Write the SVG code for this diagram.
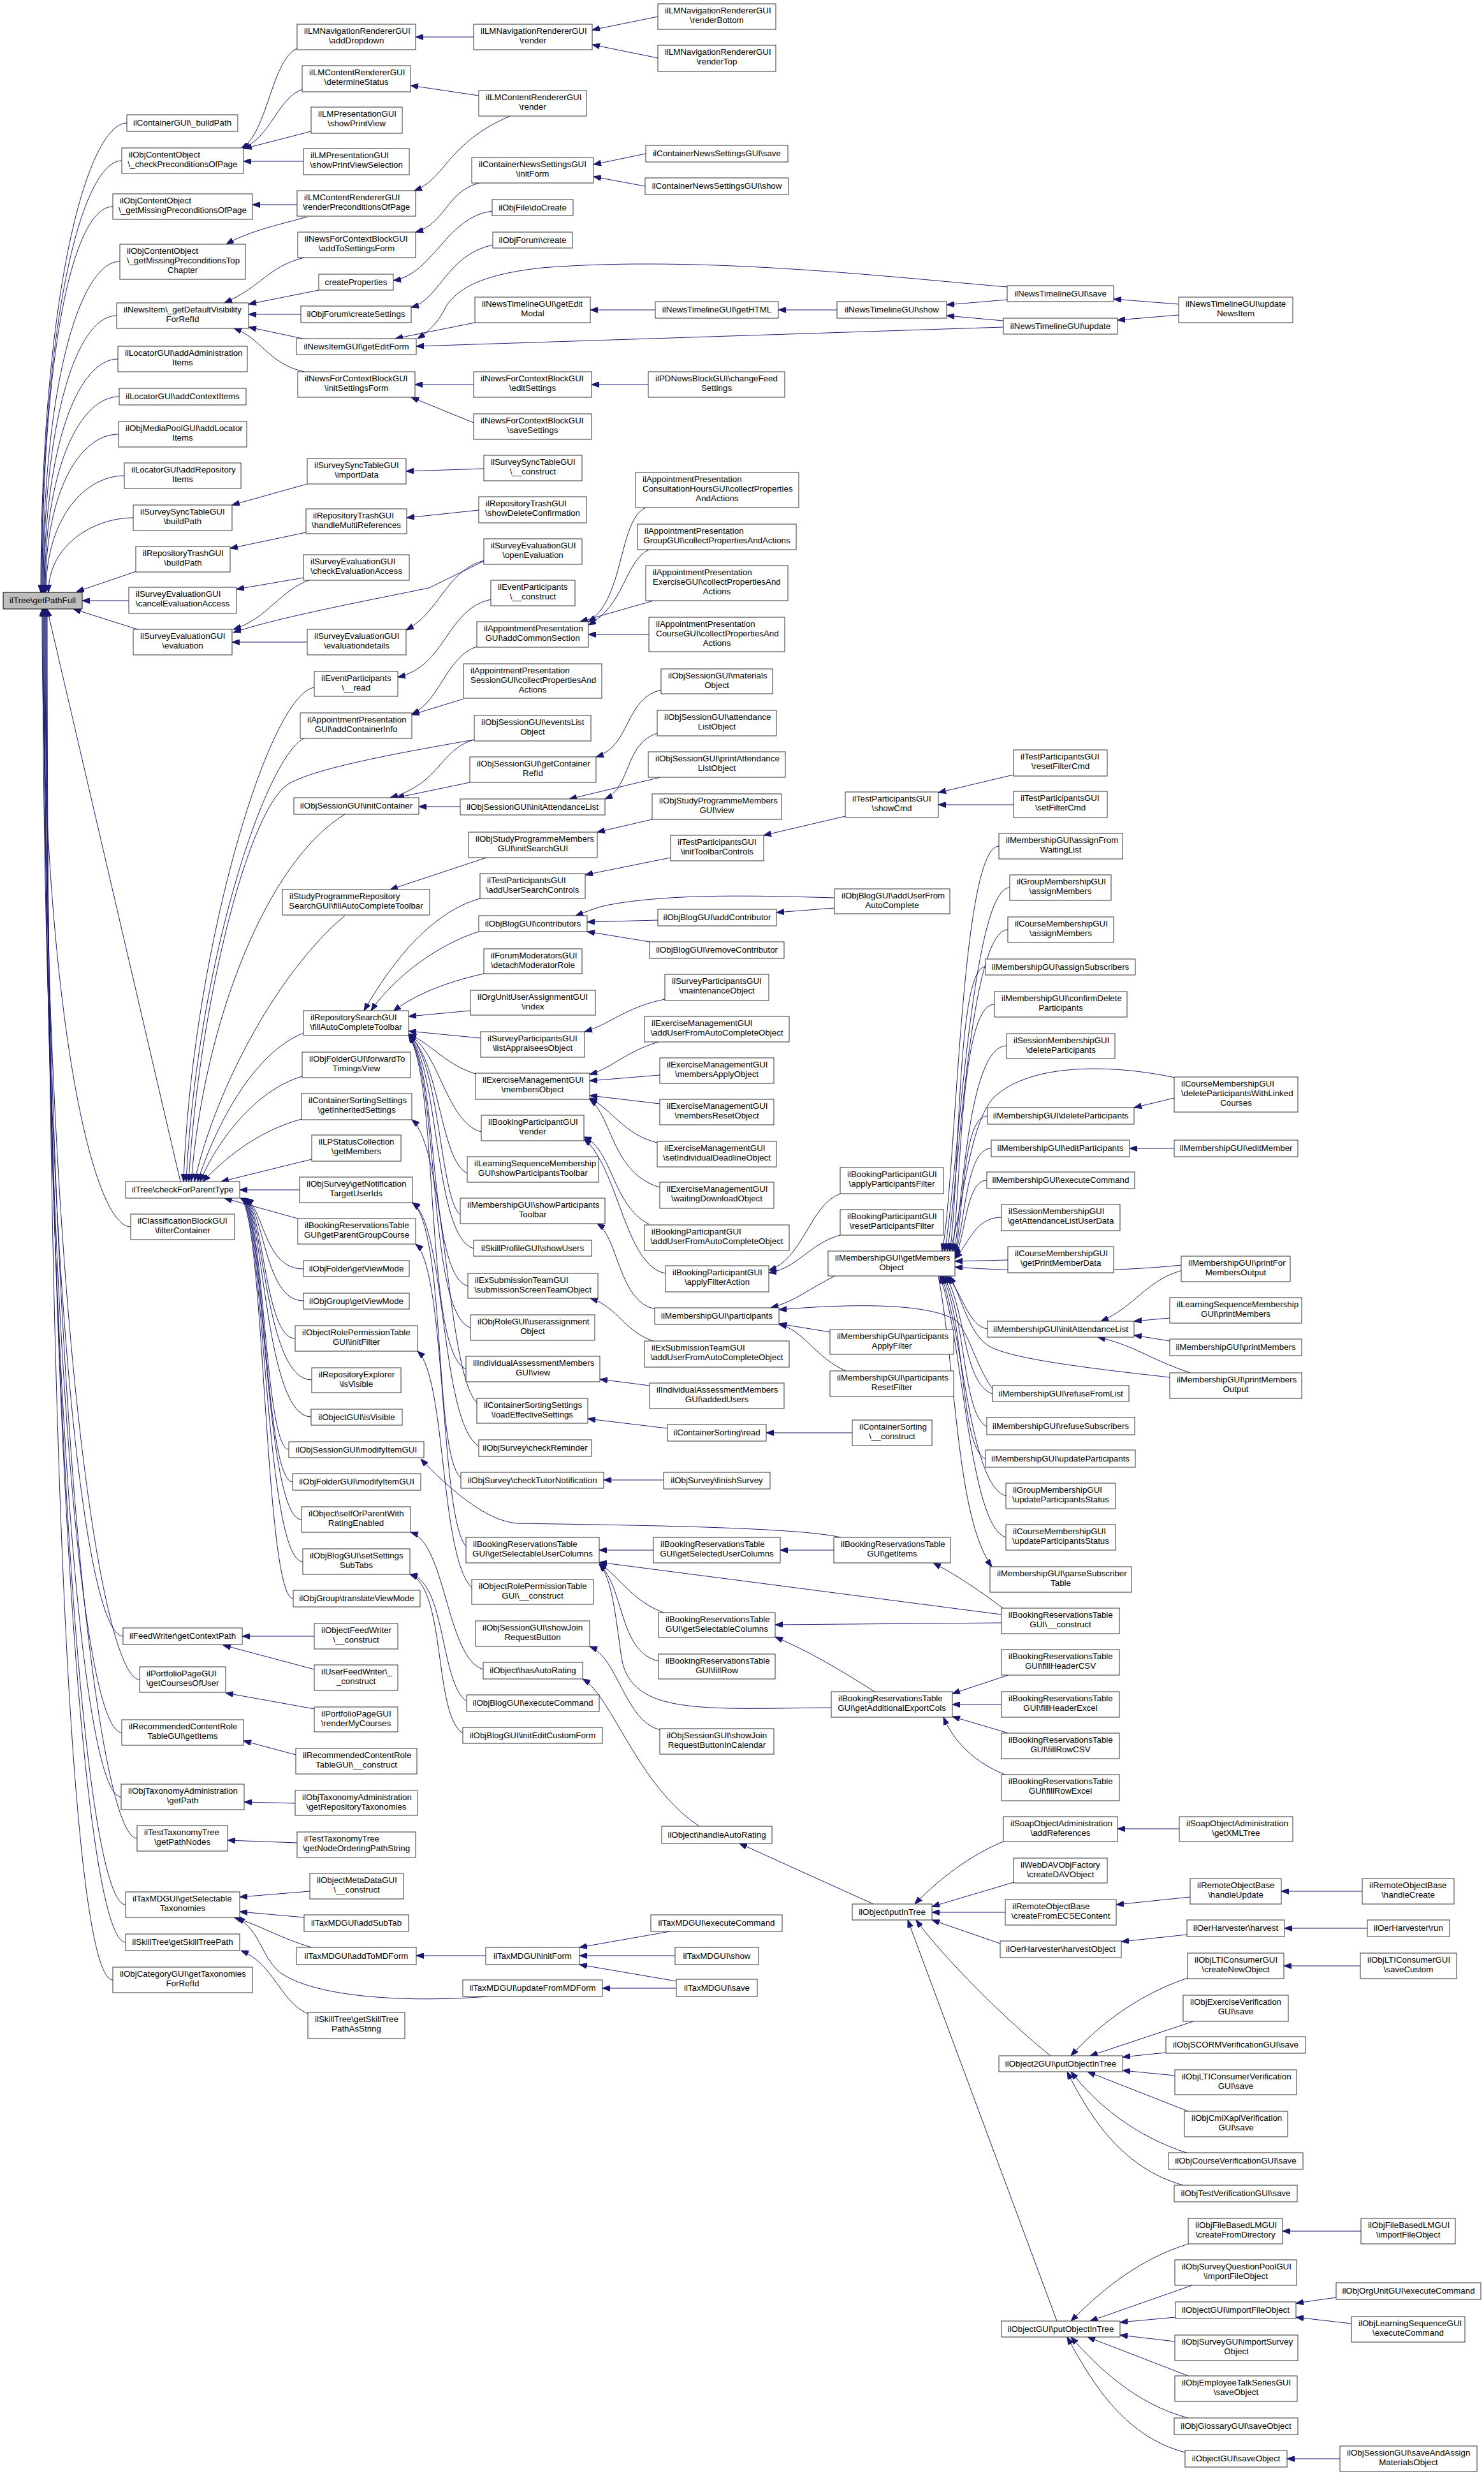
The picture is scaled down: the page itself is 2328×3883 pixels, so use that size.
<svg xmlns="http://www.w3.org/2000/svg" width="2328" height="3883" viewBox="0 0 2328 3883">
<style>
.n rect{fill:#fff;stroke:#333;stroke-width:1}
.r rect{fill:#bfbfbf;stroke:#000;stroke-width:1}
text{font-family:"Liberation Sans",Arial,Helvetica,sans-serif;font-size:13.33px;fill:#000}
.c{text-anchor:middle}
#edges path{fill:none;stroke:#191970;stroke-width:1;marker-end:url(#a)}
</style>
<defs>
<marker id="a" viewBox="0 0 12 9" refX="12" refY="4.5" markerWidth="12" markerHeight="9" markerUnits="userSpaceOnUse" orient="auto"><path d="M0,0L12,4.5L0,9z" fill="#191970" stroke="#191970"/></marker>
</defs>
<rect width="2328" height="3883" fill="#fff"/>
<g id="edges">
<path d="M199,193 C139,193 64,451 64,929"/>
<path d="M191,252 C131,252 65,489 65,929"/>
<path d="M177,324 C117,324 66,536 66,929"/>
<path d="M188,410 C128,410 67,592 67,929"/>
<path d="M183,495 C123,495 68,647 68,929"/>
<path d="M185,563 C125,563 69,691 69,929"/>
<path d="M187,622 C127,622 70,729 70,929"/>
<path d="M186,681 C126,681 71,768 71,929"/>
<path d="M195,746 C135,746 72,810 72,929"/>
<path d="M209,812 C149,812 76,853 76,929"/>
<path d="M214,896 L120,928"/>
<path d="M202,942 L129,942"/>
<path d="M219,988 L115,955"/>
<path d="M283,1853 L74,955"/>
<path d="M205,1924 C145,1924 66,1585 66,955"/>
<path d="M193,2566 C133,2566 67,2002 67,955"/>
<path d="M219,2634 C159,2634 68,2047 68,955"/>
<path d="M191,2717 C131,2717 69,2101 69,955"/>
<path d="M190,2818 C130,2818 70,2166 70,955"/>
<path d="M215,2883 C155,2883 71,2209 71,955"/>
<path d="M197,2987 C137,2987 72,2276 72,955"/>
<path d="M197,3046 C137,3046 73,2314 73,955"/>
<path d="M177,3105 C117,3105 74,2353 74,955"/>
<path d="M466,76 C425,95 420,210 378,233"/>
<path d="M474,140 C435,155 425,215 380,233"/>
<path d="M488,206 L383,233"/>
<path d="M476,253 L382,253"/>
<path d="M466,321 L396,321"/>
<path d="M482,340 C440,352 390,362 355,383"/>
<path d="M477,404 C420,418 410,450 352,475"/>
<path d="M500,455 L390,477"/>
<path d="M472,493 L390,493"/>
<path d="M475,531 L390,513"/>
<path d="M477,583 C420,570 410,530 367,515"/>
<path d="M482,759 L364,792"/>
<path d="M480,835 L361,860"/>
<path d="M476,906 L371,924"/>
<path d="M485,910 C440,925 420,970 366,987"/>
<path d="M759,880 L673,922 C560,945 430,970 366,992"/>
<path d="M482,1007 L364,1007"/>
<path d="M493,1078 C420,1090 300,1500 288,1853"/>
<path d="M479,1157 C420,1180 310,1500 292,1853"/>
<path d="M744,1160 C600,1185 470,1210 444,1236 C380,1300 310,1600 296,1853"/>
<path d="M541,1277 C420,1350 320,1600 300,1853"/>
<path d="M541,1436 C440,1520 340,1700 305,1853"/>
<path d="M476,1620 C400,1650 340,1760 310,1853"/>
<path d="M474,1688 C400,1710 340,1790 314,1853"/>
<path d="M473,1755 C400,1775 350,1820 318,1853"/>
<path d="M489,1818 L347,1853"/>
<path d="M470,1866 L376,1866"/>
<path d="M467,1911 L352,1879"/>
<path d="M476,1990 C415,1990 415,1900 386,1879"/>
<path d="M476,2040 C415,2040 415,1900 385,1879"/>
<path d="M463,2099 C415,2099 415,1900 384,1879"/>
<path d="M489,2164 C415,2164 415,1900 383,1879"/>
<path d="M488,2222 C415,2222 415,1900 382,1879"/>
<path d="M453,2273 C415,2273 415,1900 381,1879"/>
<path d="M459,2324 C415,2324 415,1900 380,1879"/>
<path d="M473,2383 C415,2383 415,1900 379,1879"/>
<path d="M475,2449 C415,2449 415,1900 378,1879"/>
<path d="M460,2507 C415,2507 415,1900 377,1879"/>
<path d="M493,2566 L380,2566"/>
<path d="M493,2618 L350,2580"/>
<path d="M493,2680 L354,2655"/>
<path d="M464,2752 L382,2730"/>
<path d="M463,2828 L383,2826"/>
<path d="M466,2890 L357,2886"/>
<path d="M486,2966 L376,2975"/>
<path d="M477,3007 L376,2998"/>
<path d="M489,3054 C440,3040 410,3020 367,3007"/>
<path d="M765,3131 C650,3140 500,3135 440,3094 C410,3070 410,3030 372,3007"/>
<path d="M483,3158 C440,3140 430,3080 378,3059"/>
<path d="M743,58 L652,58"/>
<path d="M751,150 L644,134"/>
<path d="M800,182 C700,225 700,280 650,299"/>
<path d="M752,287 C700,300 700,350 652,364"/>
<path d="M772,331 C700,340 680,430 617,440"/>
<path d="M773,384 C700,400 690,470 645,482"/>
<path d="M745,506 L620,531"/>
<path d="M1580,450 C1400,435 1100,400 850,420 C760,430 720,450 700,480 C690,500 680,515 655,531"/>
<path d="M1574,513 L653,543"/>
<path d="M743,603 L651,603"/>
<path d="M743,663 L645,623"/>
<path d="M759,735 L637,739"/>
<path d="M751,800 L638,812"/>
<path d="M759,879 C700,895 690,960 637,988"/>
<path d="M770,940 C700,955 700,1045 624,1062"/>
<path d="M748,1014 C700,1030 690,1100 646,1120"/>
<path d="M727,1096 L646,1121"/>
<path d="M744,1160 C690,1175 690,1230 612,1251"/>
<path d="M737,1227 L622,1251"/>
<path d="M722,1265 L657,1265"/>
<path d="M763,1345 L612,1395"/>
<path d="M753,1409 C680,1430 620,1500 571,1585"/>
<path d="M751,1461 C690,1480 620,1530 582,1585"/>
<path d="M759,1527 C700,1540 650,1560 617,1586"/>
<path d="M738,1585 L641,1594"/>
<path d="M754,1628 L641,1617"/>
<path d="M746,1684 C700,1670 680,1640 641,1621"/>
<path d="M755,1775 C700,1760 690,1650 641,1622"/>
<path d="M733,1840 C690,1820 690,1660 641,1623"/>
<path d="M722,1905 C690,1880 690,1660 641,1623"/>
<path d="M743,1958 C680,1940 690,1670 641,1624"/>
<path d="M734,2017 C670,2000 690,1680 641,1624"/>
<path d="M738,2082 C670,2060 690,1690 641,1624"/>
<path d="M731,2147 C665,2120 690,1700 641,1624"/>
<path d="M748,2200 C700,2150 700,1800 646,1756"/>
<path d="M751,2268 C690,2230 700,1920 647,1886"/>
<path d="M723,2318 C680,2280 700,1930 647,1886"/>
<path d="M740,2490 C690,2440 700,2160 655,2119"/>
<path d="M758,2618 C700,2600 700,2420 644,2403"/>
<path d="M732,2668 C690,2640 700,2480 643,2469"/>
<path d="M726,2718 C680,2690 700,2490 643,2469"/>
<path d="M731,2425 C690,2380 700,1990 652,1951"/>
<path d="M1319,2411 C1250,2395 1000,2392 811,2389 C760,2385 700,2330 660,2288"/>
<path d="M1036,2713 C980,2700 970,2600 925,2582"/>
<path d="M1097,2864 C1000,2800 960,2660 914,2633"/>
<path d="M762,3067 L653,3067"/>
<path d="M1032,26 L929,47"/>
<path d="M1032,91 L929,70"/>
<path d="M1013,241 L931,258"/>
<path d="M1012,292 L931,277"/>
<path d="M1028,486 L926,486"/>
<path d="M1017,603 L928,603"/>
<path d="M1013,796 C970,815 980,940 923,975"/>
<path d="M1018,862 C980,880 980,950 923,980"/>
<path d="M1025,942 L910,975"/>
<path d="M1018,995 L923,995"/>
<path d="M1037,1082 C980,1095 990,1170 935,1187"/>
<path d="M1031,1150 C980,1165 990,1235 949,1253"/>
<path d="M1036,1219 L893,1253"/>
<path d="M1023,1285 L937,1305"/>
<path d="M1052,1345 L918,1372"/>
<path d="M1309,1408 C1200,1405 1050,1400 950,1420 C930,1425 920,1430 903,1436"/>
<path d="M1309,1424 L1218,1431"/>
<path d="M1032,1443 L921,1446"/>
<path d="M1019,1477 L921,1461"/>
<path d="M1043,1567 C980,1580 960,1605 917,1618"/>
<path d="M1033,1634 C980,1650 960,1675 925,1685"/>
<path d="M1035,1686 L925,1695"/>
<path d="M1035,1731 L925,1718"/>
<path d="M1031,1792 C980,1780 960,1740 925,1722"/>
<path d="M1035,1862 C960,1840 960,1750 925,1724"/>
<path d="M1018,1920 C960,1890 960,1800 916,1783"/>
<path d="M1044,1997 C980,1985 970,1830 916,1786"/>
<path d="M1027,2053 C970,2040 970,1940 937,1919"/>
<path d="M1028,2104 C980,2090 970,2050 926,2036"/>
<path d="M1019,2173 L941,2163"/>
<path d="M1047,2240 L922,2225"/>
<path d="M1041,2321 L947,2321"/>
<path d="M1025,2431 L940,2431"/>
<path d="M1041,2529 C990,2510 970,2470 940,2452"/>
<path d="M1033,2605 C970,2590 980,2490 940,2453"/>
<path d="M1304,2678 C1100,2680 990,2690 975,2600 C965,2530 960,2475 940,2453"/>
<path d="M1571,2532 L940,2450"/>
<path d="M1051,3029 L909,3054"/>
<path d="M1059,3067 L909,3067"/>
<path d="M1061,3107 L909,3081"/>
<path d="M1061,3118 L945,3118"/>
<path d="M1313,486 L1221,486"/>
<path d="M1326,1280 L1198,1310"/>
<path d="M1318,1872 C1270,1890 1260,1975 1206,1992"/>
<path d="M1318,1937 C1270,1950 1250,1990 1206,1996"/>
<path d="M1310,2001 C1270,2020 1250,2040 1209,2051"/>
<path d="M1302,2089 L1222,2076"/>
<path d="M1327,2150 C1280,2130 1260,2085 1222,2077"/>
<path d="M1557,2178 C1530,2140 1520,2090 1500,2071 C1460,2045 1350,2043 1222,2054"/>
<path d="M1337,2247 L1202,2247"/>
<path d="M1308,2431 L1224,2431"/>
<path d="M1575,2523 C1530,2490 1500,2470 1464,2451"/>
<path d="M1571,2545 L1216,2548"/>
<path d="M1372,2653 C1320,2620 1270,2590 1216,2567"/>
<path d="M1370,2986 L1160,2891"/>
<path d="M1580,470 L1485,478"/>
<path d="M1574,503 L1485,495"/>
<path d="M1590,1215 L1472,1243"/>
<path d="M1590,1262 L1472,1262"/>
<path d="M1582,2627 L1494,2656"/>
<path d="M1571,2673 L1494,2673"/>
<path d="M1582,2718 L1494,2692"/>
<path d="M1582,2785 C1540,2770 1500,2740 1480,2693"/>
<path d="M1574,2888 C1520,2910 1470,2950 1435,2986"/>
<path d="M1590,2952 L1462,2990"/>
<path d="M1577,2999 L1462,2999"/>
<path d="M1569,3048 L1462,3011"/>
<path d="M1648,3224 C1580,3170 1480,3070 1437,3011"/>
<path d="M1658,3640 L1424,3011"/>
<path d="M1567,1327 C1507,1327 1500,1850 1478,1962"/>
<path d="M1584,1392 C1524,1392 1502,1850 1482,1962"/>
<path d="M1581,1458 C1521,1458 1504,1850 1486,1962"/>
<path d="M1546,1516 C1500,1516 1506,1860 1490,1962"/>
<path d="M1560,1575 C1505,1575 1508,1870 1494,1962"/>
<path d="M1579,1640 C1520,1640 1510,1880 1497,1964"/>
<path d="M1549,1750 C1510,1750 1512,1900 1498,1967"/>
<path d="M1555,1801 C1515,1801 1514,1920 1498,1969"/>
<path d="M1548,1851 C1515,1851 1515,1940 1498,1971"/>
<path d="M1571,1909 C1530,1909 1520,1950 1498,1974"/>
<path d="M1581,1976 L1498,1978"/>
<path d="M1549,2084 C1520,2080 1510,2030 1486,2001"/>
<path d="M1557,2186 C1510,2170 1515,2050 1483,2001"/>
<path d="M1548,2237 C1510,2220 1515,2060 1480,2001"/>
<path d="M1546,2288 C1505,2270 1515,2070 1478,2001"/>
<path d="M1578,2346 C1520,2330 1510,2080 1476,2001"/>
<path d="M1578,2411 C1520,2395 1510,2090 1474,2001"/>
<path d="M1472,2001 C1500,2150 1500,2380 1556,2457"/>
<path d="M1849,477 L1747,469"/>
<path d="M1849,494 L1753,502"/>
<path d="M1842,1722 L1779,1737"/>
<path d="M1843,1690 C1750,1670 1620,1665 1560,1720 C1520,1760 1510,1900 1490,1962"/>
<path d="M1842,1801 L1772,1801"/>
<path d="M1859,1991 C1800,2005 1780,2050 1727,2072"/>
<path d="M1853,1984 C1750,1995 1600,1995 1498,1987"/>
<path d="M1835,2067 L1779,2072"/>
<path d="M1835,2103 L1779,2094"/>
<path d="M1867,2153 C1800,2130 1780,2110 1722,2097"/>
<path d="M1835,2160 C1700,2145 1580,2130 1550,2110 C1520,2090 1510,2040 1490,2001"/>
<path d="M1850,2868 L1753,2868"/>
<path d="M1867,2975 L1751,2987"/>
<path d="M1862,3034 L1759,3045"/>
<path d="M1863,3102 C1780,3130 1720,3180 1680,3224"/>
<path d="M1872,3170 L1710,3224"/>
<path d="M1829,3219 L1761,3226"/>
<path d="M1843,3255 L1761,3247"/>
<path d="M1864,3311 L1706,3249"/>
<path d="M1864,3377 C1780,3350 1720,3300 1680,3249"/>
<path d="M1856,3427 C1760,3400 1710,3320 1674,3249"/>
<path d="M1864,3519 C1780,3545 1720,3600 1680,3640"/>
<path d="M1870,3584 L1710,3640"/>
<path d="M1844,3634 L1757,3642"/>
<path d="M1843,3672 L1757,3662"/>
<path d="M1864,3726 L1706,3665"/>
<path d="M1864,3792 C1780,3770 1720,3710 1680,3665"/>
<path d="M1859,3846 C1760,3820 1710,3730 1674,3665"/>
<path d="M2137,2966 L2010,2966"/>
<path d="M2145,3024 L2015,3024"/>
<path d="M2134,3083 L2014,3083"/>
<path d="M2135,3499 L2012,3499"/>
<path d="M2096,3603 L2033,3612"/>
<path d="M2120,3644 L2033,3634"/>
<path d="M2102,3856 L2019,3856"/>
</g>
<g id="n0" class="r" transform="translate(5,929)"><rect width="124" height="26"/><text class="c" x="62" y="17">ilTree\getPathFull</text></g>
<g id="c1a" class="n" transform="translate(199,180)"><rect width="174" height="26"/><text class="c" x="87" y="17">ilContainerGUI\_buildPath</text></g>
<g id="c1b" class="n" transform="translate(191,232)"><rect width="191" height="40"/><text x="11" y="15">ilObjContentObject</text><text class="c" x="95.5" y="30">\_checkPreconditionsOfPage</text></g>
<g id="c1c" class="n" transform="translate(177,304)"><rect width="219" height="40"/><text x="11" y="15">ilObjContentObject</text><text class="c" x="109.5" y="30">\_getMissingPreconditionsOfPage</text></g>
<g id="c1d" class="n" transform="translate(188,383)"><rect width="197" height="55"/><text x="11" y="15">ilObjContentObject</text><text x="11" y="30">\_getMissingPreconditionsTop</text><text class="c" x="98.5" y="45">Chapter</text></g>
<g id="c1e" class="n" transform="translate(183,475)"><rect width="207" height="40"/><text x="11" y="15">ilNewsItem\_getDefaultVisibility</text><text class="c" x="103.5" y="30">ForRefId</text></g>
<g id="c1f" class="n" transform="translate(185,543)"><rect width="203" height="40"/><text x="11" y="15">ilLocatorGUI\addAdministration</text><text class="c" x="101.5" y="30">Items</text></g>
<g id="c1g" class="n" transform="translate(187,609)"><rect width="199" height="26"/><text class="c" x="99.5" y="17">ilLocatorGUI\addContextItems</text></g>
<g id="c1h" class="n" transform="translate(186,661)"><rect width="201" height="40"/><text x="11" y="15">ilObjMediaPoolGUI\addLocator</text><text class="c" x="100.5" y="30">Items</text></g>
<g id="c1i" class="n" transform="translate(195,726)"><rect width="183" height="40"/><text x="11" y="15">ilLocatorGUI\addRepository</text><text class="c" x="91.5" y="30">Items</text></g>
<g id="c1j" class="n" transform="translate(209,792)"><rect width="155" height="40"/><text x="11" y="15">ilSurveySyncTableGUI</text><text class="c" x="77.5" y="30">\buildPath</text></g>
<g id="c1k" class="n" transform="translate(213,857)"><rect width="148" height="40"/><text x="11" y="15">ilRepositoryTrashGUI</text><text class="c" x="74" y="30">\buildPath</text></g>
<g id="c1l" class="n" transform="translate(202,921)"><rect width="169" height="41"/><text x="11" y="15">ilSurveyEvaluationGUI</text><text class="c" x="84.5" y="30">\cancelEvaluationAccess</text></g>
<g id="c1m" class="n" transform="translate(209,987)"><rect width="155" height="40"/><text x="11" y="15">ilSurveyEvaluationGUI</text><text class="c" x="77.5" y="30">\evaluation</text></g>
<g id="c1n" class="n" transform="translate(197,1853)"><rect width="179" height="26"/><text class="c" x="89.5" y="17">ilTree\checkForParentType</text></g>
<g id="c1o" class="n" transform="translate(205,1904)"><rect width="163" height="40"/><text x="11" y="15">ilClassificationBlockGUI</text><text class="c" x="81.5" y="30">\filterContainer</text></g>
<g id="c1p" class="n" transform="translate(193,2553)"><rect width="187" height="26"/><text class="c" x="93.5" y="17">ilFeedWriter\getContextPath</text></g>
<g id="c1q" class="n" transform="translate(219,2614)"><rect width="135" height="40"/><text x="11" y="15">ilPortfolioPageGUI</text><text class="c" x="67.5" y="30">\getCoursesOfUser</text></g>
<g id="c1r" class="n" transform="translate(191,2697)"><rect width="191" height="40"/><text x="11" y="15">ilRecommendedContentRole</text><text class="c" x="95.5" y="30">TableGUI\getItems</text></g>
<g id="c1s" class="n" transform="translate(190,2798)"><rect width="193" height="40"/><text x="11" y="15">ilObjTaxonomyAdministration</text><text class="c" x="96.5" y="30">\getPath</text></g>
<g id="c1t" class="n" transform="translate(215,2863)"><rect width="142" height="40"/><text x="11" y="15">ilTestTaxonomyTree</text><text class="c" x="71" y="30">\getPathNodes</text></g>
<g id="c1u" class="n" transform="translate(197,2967)"><rect width="179" height="40"/><text x="11" y="15">ilTaxMDGUI\getSelectable</text><text class="c" x="89.5" y="30">Taxonomies</text></g>
<g id="c1v" class="n" transform="translate(197,3033)"><rect width="179" height="26"/><text class="c" x="89.5" y="17">ilSkillTree\getSkillTreePath</text></g>
<g id="c1w" class="n" transform="translate(177,3085)"><rect width="219" height="40"/><text x="11" y="15">ilObjCategoryGUI\getTaxonomies</text><text class="c" x="109.5" y="30">ForRefId</text></g>
<g id="c2a" class="n" transform="translate(466,38)"><rect width="186" height="40"/><text x="11" y="15">ilLMNavigationRendererGUI</text><text class="c" x="93" y="30">\addDropdown</text></g>
<g id="c2b" class="n" transform="translate(474,103)"><rect width="170" height="41"/><text x="11" y="15">ilLMContentRendererGUI</text><text class="c" x="85" y="30">\determineStatus</text></g>
<g id="c2c" class="n" transform="translate(488,168)"><rect width="143" height="41"/><text x="11" y="15">ilLMPresentationGUI</text><text class="c" x="71.5" y="30">\showPrintView</text></g>
<g id="c2d" class="n" transform="translate(476,233)"><rect width="166" height="41"/><text x="11" y="15">ilLMPresentationGUI</text><text class="c" x="83" y="30">\showPrintViewSelection</text></g>
<g id="c2e" class="n" transform="translate(466,299)"><rect width="186" height="40"/><text x="11" y="15">ilLMContentRendererGUI</text><text class="c" x="93" y="30">\renderPreconditionsOfPage</text></g>
<g id="c2f" class="n" transform="translate(467,364)"><rect width="185" height="40"/><text x="11" y="15">ilNewsForContextBlockGUI</text><text class="c" x="92.5" y="30">\addToSettingsForm</text></g>
<g id="c2g" class="n" transform="translate(500,430)"><rect width="117" height="25"/><text class="c" x="58.5" y="17">createProperties</text></g>
<g id="c2h" class="n" transform="translate(472,480)"><rect width="173" height="26"/><text class="c" x="86.5" y="17">ilObjForum\createSettings</text></g>
<g id="c2i" class="n" transform="translate(465,531)"><rect width="188" height="25"/><text class="c" x="94" y="17">ilNewsItemGUI\getEditForm</text></g>
<g id="c2j" class="n" transform="translate(467,583)"><rect width="184" height="40"/><text x="11" y="15">ilNewsForContextBlockGUI</text><text class="c" x="92" y="30">\initSettingsForm</text></g>
<g id="c2k" class="n" transform="translate(482,719)"><rect width="155" height="40"/><text x="11" y="15">ilSurveySyncTableGUI</text><text class="c" x="77.5" y="30">\importData</text></g>
<g id="c2l" class="n" transform="translate(480,798)"><rect width="158" height="39"/><text x="11" y="15">ilRepositoryTrashGUI</text><text class="c" x="79" y="30">\handleMultiReferences</text></g>
<g id="c2m" class="n" transform="translate(476,870)"><rect width="166" height="40"/><text x="11" y="15">ilSurveyEvaluationGUI</text><text class="c" x="83" y="30">\checkEvaluationAccess</text></g>
<g id="c2n" class="n" transform="translate(482,987)"><rect width="155" height="40"/><text x="11" y="15">ilSurveyEvaluationGUI</text><text class="c" x="77.5" y="30">\evaluationdetails</text></g>
<g id="c2o" class="n" transform="translate(493,1053)"><rect width="131" height="39"/><text x="11" y="15">ilEventParticipants</text><text class="c" x="65.5" y="30">\__read</text></g>
<g id="c2p" class="n" transform="translate(471,1118)"><rect width="175" height="40"/><text x="11" y="15">ilAppointmentPresentation</text><text class="c" x="87.5" y="30">GUI\addContainerInfo</text></g>
<g id="c2q" class="n" transform="translate(461,1251)"><rect width="196" height="26"/><text class="c" x="98" y="17">ilObjSessionGUI\initContainer</text></g>
<g id="c2r" class="n" transform="translate(443,1395)"><rect width="231" height="40"/><text x="11" y="15">ilStudyProgrammeRepository</text><text class="c" x="115.5" y="30">SearchGUI\fillAutoCompleteToolbar</text></g>
<g id="c2s" class="n" transform="translate(476,1585)"><rect width="165" height="39"/><text x="11" y="15">ilRepositorySearchGUI</text><text class="c" x="82.5" y="30">\fillAutoCompleteToolbar</text></g>
<g id="c2t" class="n" transform="translate(474,1650)"><rect width="170" height="40"/><text x="11" y="15">ilObjFolderGUI\forwardTo</text><text class="c" x="85" y="30">TimingsView</text></g>
<g id="c2u" class="n" transform="translate(473,1715)"><rect width="173" height="41"/><text x="11" y="15">ilContainerSortingSettings</text><text class="c" x="86.5" y="30">\getInheritedSettings</text></g>
<g id="c2v" class="n" transform="translate(489,1780)"><rect width="140" height="41"/><text x="11" y="15">ilLPStatusCollection</text><text class="c" x="70" y="30">\getMembers</text></g>
<g id="c2w" class="n" transform="translate(470,1846)"><rect width="177" height="40"/><text x="11" y="15">ilObjSurvey\getNotification</text><text class="c" x="88.5" y="30">TargetUserIds</text></g>
<g id="c2x" class="n" transform="translate(467,1911)"><rect width="185" height="40"/><text x="11" y="15">ilBookingReservationsTable</text><text class="c" x="92.5" y="30">GUI\getParentGroupCourse</text></g>
<g id="c2y" class="n" transform="translate(476,1977)"><rect width="166" height="25"/><text class="c" x="83" y="17">ilObjFolder\getViewMode</text></g>
<g id="c2z" class="n" transform="translate(476,2028)"><rect width="166" height="25"/><text class="c" x="83" y="17">ilObjGroup\getViewMode</text></g>
<g id="c2aa" class="n" transform="translate(463,2079)"><rect width="192" height="40"/><text x="11" y="15">ilObjectRolePermissionTable</text><text class="c" x="96" y="30">GUI\initFilter</text></g>
<g id="c2ab" class="n" transform="translate(489,2145)"><rect width="140" height="39"/><text x="11" y="15">ilRepositoryExplorer</text><text class="c" x="70" y="30">\isVisible</text></g>
<g id="c2ac" class="n" transform="translate(488,2210)"><rect width="143" height="25"/><text class="c" x="71.5" y="17">ilObjectGUI\isVisible</text></g>
<g id="c2ad" class="n" transform="translate(453,2261)"><rect width="212" height="25"/><text class="c" x="106" y="17">ilObjSessionGUI\modifyItemGUI</text></g>
<g id="c2ae" class="n" transform="translate(459,2311)"><rect width="201" height="26"/><text class="c" x="100.5" y="17">ilObjFolderGUI\modifyItemGUI</text></g>
<g id="c2af" class="n" transform="translate(473,2363)"><rect width="171" height="40"/><text x="11" y="15">ilObject\selfOrParentWith</text><text class="c" x="85.5" y="30">RatingEnabled</text></g>
<g id="c2ag" class="n" transform="translate(475,2429)"><rect width="168" height="40"/><text x="11" y="15">ilObjBlogGUI\setSettings</text><text class="c" x="84" y="30">SubTabs</text></g>
<g id="c2ah" class="n" transform="translate(460,2494)"><rect width="199" height="26"/><text class="c" x="99.5" y="17">ilObjGroup\translateViewMode</text></g>
<g id="c2ai" class="n" transform="translate(493,2546)"><rect width="131" height="40"/><text x="11" y="15">ilObjectFeedWriter</text><text class="c" x="65.5" y="30">\__construct</text></g>
<g id="c2aj" class="n" transform="translate(493,2611)"><rect width="131" height="40"/><text x="11" y="15">ilUserFeedWriter\_</text><text class="c" x="65.5" y="30">_construct</text></g>
<g id="c2ak" class="n" transform="translate(493,2677)"><rect width="131" height="39"/><text x="11" y="15">ilPortfolioPageGUI</text><text class="c" x="65.5" y="30">\renderMyCourses</text></g>
<g id="c2al" class="n" transform="translate(464,2742)"><rect width="190" height="40"/><text x="11" y="15">ilRecommendedContentRole</text><text class="c" x="95" y="30">TableGUI\__construct</text></g>
<g id="c2am" class="n" transform="translate(463,2808)"><rect width="192" height="39"/><text x="11" y="15">ilObjTaxonomyAdministration</text><text class="c" x="96" y="30">\getRepositoryTaxonomies</text></g>
<g id="c2an" class="n" transform="translate(466,2873)"><rect width="186" height="40"/><text x="11" y="15">ilTestTaxonomyTree</text><text class="c" x="93" y="30">\getNodeOrderingPathString</text></g>
<g id="c2ao" class="n" transform="translate(486,2938)"><rect width="147" height="40"/><text x="11" y="15">ilObjectMetaDataGUI</text><text class="c" x="73.5" y="30">\__construct</text></g>
<g id="c2ap" class="n" transform="translate(477,3003)"><rect width="164" height="26"/><text class="c" x="82" y="17">ilTaxMDGUI\addSubTab</text></g>
<g id="c2aq" class="n" transform="translate(465,3054)"><rect width="188" height="27"/><text class="c" x="94" y="18">ilTaxMDGUI\addToMDForm</text></g>
<g id="c2ar" class="n" transform="translate(483,3156)"><rect width="152" height="41"/><text x="11" y="15">ilSkillTree\getSkillTree</text><text class="c" x="76" y="30">PathAsString</text></g>
<g id="c3a" class="n" transform="translate(743,38)"><rect width="186" height="40"/><text x="11" y="15">ilLMNavigationRendererGUI</text><text class="c" x="93" y="30">\render</text></g>
<g id="c3b" class="n" transform="translate(751,142)"><rect width="169" height="40"/><text x="11" y="15">ilLMContentRendererGUI</text><text class="c" x="84.5" y="30">\render</text></g>
<g id="c3c" class="n" transform="translate(740,247)"><rect width="191" height="40"/><text x="11" y="15">ilContainerNewsSettingsGUI</text><text class="c" x="95.5" y="30">\initForm</text></g>
<g id="c3d" class="n" transform="translate(772,313)"><rect width="127" height="25"/><text class="c" x="63.5" y="17">ilObjFile\doCreate</text></g>
<g id="c3e" class="n" transform="translate(773,364)"><rect width="125" height="25"/><text class="c" x="62.5" y="17">ilObjForum\create</text></g>
<g id="c3f" class="n" transform="translate(745,466)"><rect width="181" height="40"/><text x="11" y="15">ilNewsTimelineGUI\getEdit</text><text class="c" x="90.5" y="30">Modal</text></g>
<g id="c3g" class="n" transform="translate(743,583)"><rect width="185" height="40"/><text x="11" y="15">ilNewsForContextBlockGUI</text><text class="c" x="92.5" y="30">\editSettings</text></g>
<g id="c3h" class="n" transform="translate(743,649)"><rect width="185" height="40"/><text x="11" y="15">ilNewsForContextBlockGUI</text><text class="c" x="92.5" y="30">\saveSettings</text></g>
<g id="c3i" class="n" transform="translate(759,714)"><rect width="154" height="40"/><text x="11" y="15">ilSurveySyncTableGUI</text><text class="c" x="77" y="30">\__construct</text></g>
<g id="c3j" class="n" transform="translate(751,779)"><rect width="169" height="41"/><text x="11" y="15">ilRepositoryTrashGUI</text><text class="c" x="84.5" y="30">\showDeleteConfirmation</text></g>
<g id="c3k" class="n" transform="translate(759,845)"><rect width="154" height="40"/><text x="11" y="15">ilSurveyEvaluationGUI</text><text class="c" x="77" y="30">\openEvaluation</text></g>
<g id="c3l" class="n" transform="translate(770,910)"><rect width="132" height="40"/><text x="11" y="15">ilEventParticipants</text><text class="c" x="66" y="30">\__construct</text></g>
<g id="c3m" class="n" transform="translate(748,975)"><rect width="175" height="40"/><text x="11" y="15">ilAppointmentPresentation</text><text class="c" x="87.5" y="30">GUI\addCommonSection</text></g>
<g id="c3n" class="n" transform="translate(727,1041)"><rect width="217" height="54"/><text x="11" y="15">ilAppointmentPresentation</text><text x="11" y="30">SessionGUI\collectPropertiesAnd</text><text class="c" x="108.5" y="45">Actions</text></g>
<g id="c3o" class="n" transform="translate(744,1122)"><rect width="183" height="40"/><text x="11" y="15">ilObjSessionGUI\eventsList</text><text class="c" x="91.5" y="30">Object</text></g>
<g id="c3p" class="n" transform="translate(737,1187)"><rect width="198" height="40"/><text x="11" y="15">ilObjSessionGUI\getContainer</text><text class="c" x="99" y="30">RefId</text></g>
<g id="c3q" class="n" transform="translate(722,1253)"><rect width="227" height="25"/><text class="c" x="113.5" y="17">ilObjSessionGUI\initAttendanceList</text></g>
<g id="c3r" class="n" transform="translate(735,1305)"><rect width="202" height="40"/><text x="11" y="15">ilObjStudyProgrammeMembers</text><text class="c" x="101" y="30">GUI\initSearchGUI</text></g>
<g id="c3s" class="n" transform="translate(753,1370)"><rect width="165" height="39"/><text x="11" y="15">ilTestParticipantsGUI</text><text class="c" x="82.5" y="30">\addUserSearchControls</text></g>
<g id="c3t" class="n" transform="translate(751,1436)"><rect width="170" height="25"/><text class="c" x="85" y="17">ilObjBlogGUI\contributors</text></g>
<g id="c3u" class="n" transform="translate(759,1488)"><rect width="154" height="39"/><text x="11" y="15">ilForumModeratorsGUI</text><text class="c" x="77" y="30">\detachModeratorRole</text></g>
<g id="c3v" class="n" transform="translate(738,1553)"><rect width="196" height="39"/><text x="11" y="15">ilOrgUnitUserAssignmentGUI</text><text class="c" x="98" y="30">\index</text></g>
<g id="c3w" class="n" transform="translate(754,1618)"><rect width="163" height="40"/><text x="11" y="15">ilSurveyParticipantsGUI</text><text class="c" x="81.5" y="30">\listAppraiseesObject</text></g>
<g id="c3x" class="n" transform="translate(746,1683)"><rect width="179" height="41"/><text x="11" y="15">ilExerciseManagementGUI</text><text class="c" x="89.5" y="30">\membersObject</text></g>
<g id="c3y" class="n" transform="translate(755,1749)"><rect width="161" height="40"/><text x="11" y="15">ilBookingParticipantGUI</text><text class="c" x="80.5" y="30">\render</text></g>
<g id="c3z" class="n" transform="translate(733,1814)"><rect width="206" height="40"/><text x="11" y="15">ilLearningSequenceMembership</text><text class="c" x="103" y="30">GUI\showParticipantsToolbar</text></g>
<g id="c3aa" class="n" transform="translate(722,1879)"><rect width="227" height="40"/><text x="11" y="15">ilMembershipGUI\showParticipants</text><text class="c" x="113.5" y="30">Toolbar</text></g>
<g id="c3ab" class="n" transform="translate(743,1945)"><rect width="185" height="25"/><text class="c" x="92.5" y="17">ilSkillProfileGUI\showUsers</text></g>
<g id="c3ac" class="n" transform="translate(734,1997)"><rect width="204" height="39"/><text x="11" y="15">ilExSubmissionTeamGUI</text><text class="c" x="102" y="30">\submissionScreenTeamObject</text></g>
<g id="c3ad" class="n" transform="translate(738,2062)"><rect width="195" height="40"/><text x="11" y="15">ilObjRoleGUI\userassignment</text><text class="c" x="97.5" y="30">Object</text></g>
<g id="c3ae" class="n" transform="translate(731,2127)"><rect width="210" height="40"/><text x="11" y="15">ilIndividualAssessmentMembers</text><text class="c" x="105" y="30">GUI\view</text></g>
<g id="c3af" class="n" transform="translate(748,2193)"><rect width="174" height="39"/><text x="11" y="15">ilContainerSortingSettings</text><text class="c" x="87" y="30">\loadEffectiveSettings</text></g>
<g id="c3ag" class="n" transform="translate(751,2258)"><rect width="177" height="26"/><text class="c" x="88.5" y="17">ilObjSurvey\checkReminder</text></g>
<g id="c3ah" class="n" transform="translate(723,2309)"><rect width="224" height="25"/><text class="c" x="112" y="17">ilObjSurvey\checkTutorNotification</text></g>
<g id="c3ai" class="n" transform="translate(731,2411)"><rect width="209" height="40"/><text x="11" y="15">ilBookingReservationsTable</text><text class="c" x="104.5" y="30">GUI\getSelectableUserColumns</text></g>
<g id="c3aj" class="n" transform="translate(740,2477)"><rect width="191" height="39"/><text x="11" y="15">ilObjectRolePermissionTable</text><text class="c" x="95.5" y="30">GUI\__construct</text></g>
<g id="c3ak" class="n" transform="translate(746,2542)"><rect width="179" height="40"/><text x="11" y="15">ilObjSessionGUI\showJoin</text><text class="c" x="89.5" y="30">RequestButton</text></g>
<g id="c3al" class="n" transform="translate(758,2607)"><rect width="156" height="26"/><text class="c" x="78" y="17">ilObject\hasAutoRating</text></g>
<g id="c3am" class="n" transform="translate(732,2658)"><rect width="208" height="26"/><text class="c" x="104" y="17">ilObjBlogGUI\executeCommand</text></g>
<g id="c3an" class="n" transform="translate(726,2709)"><rect width="219" height="25"/><text class="c" x="109.5" y="17">ilObjBlogGUI\initEditCustomForm</text></g>
<g id="c3ao" class="n" transform="translate(762,3054)"><rect width="147" height="27"/><text class="c" x="73.5" y="18">ilTaxMDGUI\initForm</text></g>
<g id="c3ap" class="n" transform="translate(726,3105)"><rect width="219" height="26"/><text class="c" x="109.5" y="17">ilTaxMDGUI\updateFromMDForm</text></g>
<g id="c4a" class="n" transform="translate(1032,6)"><rect width="185" height="40"/><text x="11" y="15">ilLMNavigationRendererGUI</text><text class="c" x="92.5" y="30">\renderBottom</text></g>
<g id="c4b" class="n" transform="translate(1032,71)"><rect width="185" height="41"/><text x="11" y="15">ilLMNavigationRendererGUI</text><text class="c" x="92.5" y="30">\renderTop</text></g>
<g id="c4c" class="n" transform="translate(1013,228)"><rect width="223" height="26"/><text class="c" x="111.5" y="17">ilContainerNewsSettingsGUI\save</text></g>
<g id="c4d" class="n" transform="translate(1012,279)"><rect width="225" height="26"/><text class="c" x="112.5" y="17">ilContainerNewsSettingsGUI\show</text></g>
<g id="c4e" class="n" transform="translate(1028,473)"><rect width="193" height="26"/><text class="c" x="96.5" y="17">ilNewsTimelineGUI\getHTML</text></g>
<g id="c4f" class="n" transform="translate(1017,583)"><rect width="214" height="40"/><text x="11" y="15">ilPDNewsBlockGUI\changeFeed</text><text class="c" x="107" y="30">Settings</text></g>
<g id="c4g" class="n" transform="translate(997,741)"><rect width="256" height="55"/><text x="11" y="15">ilAppointmentPresentation</text><text x="11" y="30">ConsultationHoursGUI\collectProperties</text><text class="c" x="128" y="45">AndActions</text></g>
<g id="c4h" class="n" transform="translate(1000,822)"><rect width="249" height="40"/><text x="11" y="15">ilAppointmentPresentation</text><text class="c" x="124.5" y="30">GroupGUI\collectPropertiesAndActions</text></g>
<g id="c4i" class="n" transform="translate(1013,887)"><rect width="223" height="55"/><text x="11" y="15">ilAppointmentPresentation</text><text x="11" y="30">ExerciseGUI\collectPropertiesAnd</text><text class="c" x="111.5" y="45">Actions</text></g>
<g id="c4j" class="n" transform="translate(1018,968)"><rect width="213" height="54"/><text x="11" y="15">ilAppointmentPresentation</text><text x="11" y="30">CourseGUI\collectPropertiesAnd</text><text class="c" x="106.5" y="45">Actions</text></g>
<g id="c4k" class="n" transform="translate(1037,1049)"><rect width="175" height="39"/><text x="11" y="15">ilObjSessionGUI\materials</text><text class="c" x="87.5" y="30">Object</text></g>
<g id="c4l" class="n" transform="translate(1031,1114)"><rect width="187" height="40"/><text x="11" y="15">ilObjSessionGUI\attendance</text><text class="c" x="93.5" y="30">ListObject</text></g>
<g id="c4m" class="n" transform="translate(1017,1179)"><rect width="215" height="40"/><text x="11" y="15">ilObjSessionGUI\printAttendance</text><text class="c" x="107.5" y="30">ListObject</text></g>
<g id="c4n" class="n" transform="translate(1023,1245)"><rect width="203" height="40"/><text x="11" y="15">ilObjStudyProgrammeMembers</text><text class="c" x="101.5" y="30">GUI\view</text></g>
<g id="c4o" class="n" transform="translate(1052,1310)"><rect width="146" height="40"/><text x="11" y="15">ilTestParticipantsGUI</text><text class="c" x="73" y="30">\initToolbarControls</text></g>
<g id="c4p" class="n" transform="translate(1032,1426)"><rect width="186" height="26"/><text class="c" x="93" y="17">ilObjBlogGUI\addContributor</text></g>
<g id="c4q" class="n" transform="translate(1019,1477)"><rect width="211" height="26"/><text class="c" x="105.5" y="17">ilObjBlogGUI\removeContributor</text></g>
<g id="c4r" class="n" transform="translate(1043,1528)"><rect width="163" height="41"/><text x="11" y="15">ilSurveyParticipantsGUI</text><text class="c" x="81.5" y="30">\maintenanceObject</text></g>
<g id="c4s" class="n" transform="translate(1011,1594)"><rect width="227" height="40"/><text x="11" y="15">ilExerciseManagementGUI</text><text class="c" x="113.5" y="30">\addUserFromAutoCompleteObject</text></g>
<g id="c4t" class="n" transform="translate(1035,1659)"><rect width="179" height="40"/><text x="11" y="15">ilExerciseManagementGUI</text><text class="c" x="89.5" y="30">\membersApplyObject</text></g>
<g id="c4u" class="n" transform="translate(1035,1724)"><rect width="179" height="40"/><text x="11" y="15">ilExerciseManagementGUI</text><text class="c" x="89.5" y="30">\membersResetObject</text></g>
<g id="c4v" class="n" transform="translate(1031,1790)"><rect width="187" height="40"/><text x="11" y="15">ilExerciseManagementGUI</text><text class="c" x="93.5" y="30">\setIndividualDeadlineObject</text></g>
<g id="c4w" class="n" transform="translate(1035,1854)"><rect width="179" height="41"/><text x="11" y="15">ilExerciseManagementGUI</text><text class="c" x="89.5" y="30">\waitingDownloadObject</text></g>
<g id="c4x" class="n" transform="translate(1011,1921)"><rect width="227" height="40"/><text x="11" y="15">ilBookingParticipantGUI</text><text class="c" x="113.5" y="30">\addUserFromAutoCompleteObject</text></g>
<g id="c4y" class="n" transform="translate(1044,1985)"><rect width="162" height="41"/><text x="11" y="15">ilBookingParticipantGUI</text><text class="c" x="81" y="30">\applyFilterAction</text></g>
<g id="c4z" class="n" transform="translate(1027,2051)"><rect width="195" height="26"/><text class="c" x="97.5" y="17">ilMembershipGUI\participants</text></g>
<g id="c4aa" class="n" transform="translate(1011,2103)"><rect width="227" height="41"/><text x="11" y="15">ilExSubmissionTeamGUI</text><text class="c" x="113.5" y="30">\addUserFromAutoCompleteObject</text></g>
<g id="c4ab" class="n" transform="translate(1019,2169)"><rect width="211" height="40"/><text x="11" y="15">ilIndividualAssessmentMembers</text><text class="c" x="105.5" y="30">GUI\addedUsers</text></g>
<g id="c4ac" class="n" transform="translate(1047,2234)"><rect width="155" height="26"/><text class="c" x="77.5" y="17">ilContainerSorting\read</text></g>
<g id="c4ad" class="n" transform="translate(1041,2309)"><rect width="167" height="26"/><text class="c" x="83.5" y="17">ilObjSurvey\finishSurvey</text></g>
<g id="c4ae" class="n" transform="translate(1025,2411)"><rect width="199" height="40"/><text x="11" y="15">ilBookingReservationsTable</text><text class="c" x="99.5" y="30">GUI\getSelectedUserColumns</text></g>
<g id="c4af" class="n" transform="translate(1033,2529)"><rect width="183" height="39"/><text x="11" y="15">ilBookingReservationsTable</text><text class="c" x="91.5" y="30">GUI\getSelectableColumns</text></g>
<g id="c4ag" class="n" transform="translate(1033,2594)"><rect width="183" height="39"/><text x="11" y="15">ilBookingReservationsTable</text><text class="c" x="91.5" y="30">GUI\fillRow</text></g>
<g id="c4ah" class="n" transform="translate(1035,2711)"><rect width="179" height="40"/><text x="11" y="15">ilObjSessionGUI\showJoin</text><text class="c" x="89.5" y="30">RequestButtonInCalendar</text></g>
<g id="c4ai" class="n" transform="translate(1038,2864)"><rect width="173" height="27"/><text class="c" x="86.5" y="18">ilObject\handleAutoRating</text></g>
<g id="c4aj" class="n" transform="translate(1021,3003)"><rect width="206" height="26"/><text class="c" x="103" y="17">ilTaxMDGUI\executeCommand</text></g>
<g id="c4ak" class="n" transform="translate(1059,3054)"><rect width="131" height="27"/><text class="c" x="65.5" y="18">ilTaxMDGUI\show</text></g>
<g id="c4al" class="n" transform="translate(1061,3104)"><rect width="127" height="27"/><text class="c" x="63.5" y="18">ilTaxMDGUI\save</text></g>
<g id="c5a" class="n" transform="translate(1313,473)"><rect width="172" height="26"/><text class="c" x="86" y="17">ilNewsTimelineGUI\show</text></g>
<g id="c5b" class="n" transform="translate(1326,1242)"><rect width="146" height="40"/><text x="11" y="15">ilTestParticipantsGUI</text><text class="c" x="73" y="30">\showCmd</text></g>
<g id="c5c" class="n" transform="translate(1309,1394)"><rect width="181" height="39"/><text x="11" y="15">ilObjBlogGUI\addUserFrom</text><text class="c" x="90.5" y="30">AutoComplete</text></g>
<g id="c5d" class="n" transform="translate(1318,1831)"><rect width="162" height="41"/><text x="11" y="15">ilBookingParticipantGUI</text><text class="c" x="81" y="30">\applyParticipantsFilter</text></g>
<g id="c5e" class="n" transform="translate(1318,1897)"><rect width="162" height="40"/><text x="11" y="15">ilBookingParticipantGUI</text><text class="c" x="81" y="30">\resetParticipantsFilter</text></g>
<g id="c5f" class="n" transform="translate(1299,1962)"><rect width="199" height="39"/><text x="11" y="15">ilMembershipGUI\getMembers</text><text class="c" x="99.5" y="30">Object</text></g>
<g id="c5g" class="n" transform="translate(1302,2085)"><rect width="194" height="39"/><text x="11" y="15">ilMembershipGUI\participants</text><text class="c" x="97" y="30">ApplyFilter</text></g>
<g id="c5h" class="n" transform="translate(1302,2150)"><rect width="194" height="40"/><text x="11" y="15">ilMembershipGUI\participants</text><text class="c" x="97" y="30">ResetFilter</text></g>
<g id="c5i" class="n" transform="translate(1337,2227)"><rect width="125" height="40"/><text x="11" y="15">ilContainerSorting</text><text class="c" x="62.5" y="30">\__construct</text></g>
<g id="c5j" class="n" transform="translate(1308,2411)"><rect width="183" height="40"/><text x="11" y="15">ilBookingReservationsTable</text><text class="c" x="91.5" y="30">GUI\getItems</text></g>
<g id="c5k" class="n" transform="translate(1304,2653)"><rect width="190" height="40"/><text x="11" y="15">ilBookingReservationsTable</text><text class="c" x="95" y="30">GUI\getAdditionalExportCols</text></g>
<g id="c5l" class="n" transform="translate(1337,2986)"><rect width="125" height="25"/><text class="c" x="62.5" y="17">ilObject\putInTree</text></g>
<g id="c6a" class="n" transform="translate(1580,448)"><rect width="167" height="25"/><text class="c" x="83.5" y="17">ilNewsTimelineGUI\save</text></g>
<g id="c6b" class="n" transform="translate(1574,499)"><rect width="179" height="25"/><text class="c" x="89.5" y="17">ilNewsTimelineGUI\update</text></g>
<g id="c6c" class="n" transform="translate(1590,1176)"><rect width="147" height="41"/><text x="11" y="15">ilTestParticipantsGUI</text><text class="c" x="73.5" y="30">\resetFilterCmd</text></g>
<g id="c6d" class="n" transform="translate(1590,1241)"><rect width="147" height="41"/><text x="11" y="15">ilTestParticipantsGUI</text><text class="c" x="73.5" y="30">\setFilterCmd</text></g>
<g id="c6e" class="n" transform="translate(1567,1307)"><rect width="194" height="40"/><text x="11" y="15">ilMembershipGUI\assignFrom</text><text class="c" x="97" y="30">WaitingList</text></g>
<g id="c6f" class="n" transform="translate(1584,1372)"><rect width="159" height="40"/><text x="11" y="15">ilGroupMembershipGUI</text><text class="c" x="79.5" y="30">\assignMembers</text></g>
<g id="c6g" class="n" transform="translate(1581,1438)"><rect width="166" height="40"/><text x="11" y="15">ilCourseMembershipGUI</text><text class="c" x="83" y="30">\assignMembers</text></g>
<g id="c6h" class="n" transform="translate(1546,1504)"><rect width="235" height="25"/><text class="c" x="117.5" y="17">ilMembershipGUI\assignSubscribers</text></g>
<g id="c6i" class="n" transform="translate(1560,1555)"><rect width="208" height="40"/><text x="11" y="15">ilMembershipGUI\confirmDelete</text><text class="c" x="104" y="30">Participants</text></g>
<g id="c6j" class="n" transform="translate(1579,1621)"><rect width="170" height="39"/><text x="11" y="15">ilSessionMembershipGUI</text><text class="c" x="85" y="30">\deleteParticipants</text></g>
<g id="c6k" class="n" transform="translate(1549,1737)"><rect width="230" height="26"/><text class="c" x="115" y="17">ilMembershipGUI\deleteParticipants</text></g>
<g id="c6l" class="n" transform="translate(1555,1788)"><rect width="217" height="26"/><text class="c" x="108.5" y="17">ilMembershipGUI\editParticipants</text></g>
<g id="c6m" class="n" transform="translate(1548,1838)"><rect width="232" height="26"/><text class="c" x="116" y="17">ilMembershipGUI\executeCommand</text></g>
<g id="c6n" class="n" transform="translate(1571,1889)"><rect width="186" height="41"/><text x="11" y="15">ilSessionMembershipGUI</text><text class="c" x="93" y="30">\getAttendanceListUserData</text></g>
<g id="c6o" class="n" transform="translate(1581,1955)"><rect width="166" height="41"/><text x="11" y="15">ilCourseMembershipGUI</text><text class="c" x="83" y="30">\getPrintMemberData</text></g>
<g id="c6p" class="n" transform="translate(1549,2072)"><rect width="230" height="25"/><text class="c" x="115" y="17">ilMembershipGUI\initAttendanceList</text></g>
<g id="c6q" class="n" transform="translate(1557,2173)"><rect width="214" height="25"/><text class="c" x="107" y="17">ilMembershipGUI\refuseFromList</text></g>
<g id="c6r" class="n" transform="translate(1548,2223)"><rect width="232" height="27"/><text class="c" x="116" y="18">ilMembershipGUI\refuseSubscribers</text></g>
<g id="c6s" class="n" transform="translate(1546,2274)"><rect width="235" height="27"/><text class="c" x="117.5" y="18">ilMembershipGUI\updateParticipants</text></g>
<g id="c6t" class="n" transform="translate(1578,2326)"><rect width="172" height="40"/><text x="11" y="15">ilGroupMembershipGUI</text><text class="c" x="86" y="30">\updateParticipantsStatus</text></g>
<g id="c6u" class="n" transform="translate(1578,2391)"><rect width="172" height="40"/><text x="11" y="15">ilCourseMembershipGUI</text><text class="c" x="86" y="30">\updateParticipantsStatus</text></g>
<g id="c6v" class="n" transform="translate(1553,2457)"><rect width="222" height="40"/><text x="11" y="15">ilMembershipGUI\parseSubscriber</text><text class="c" x="111" y="30">Table</text></g>
<g id="c6w" class="n" transform="translate(1571,2522)"><rect width="185" height="40"/><text x="11" y="15">ilBookingReservationsTable</text><text class="c" x="92.5" y="30">GUI\__construct</text></g>
<g id="c6x" class="n" transform="translate(1571,2587)"><rect width="185" height="40"/><text x="11" y="15">ilBookingReservationsTable</text><text class="c" x="92.5" y="30">GUI\fillHeaderCSV</text></g>
<g id="c6y" class="n" transform="translate(1571,2653)"><rect width="185" height="40"/><text x="11" y="15">ilBookingReservationsTable</text><text class="c" x="92.5" y="30">GUI\fillHeaderExcel</text></g>
<g id="c6z" class="n" transform="translate(1571,2718)"><rect width="185" height="40"/><text x="11" y="15">ilBookingReservationsTable</text><text class="c" x="92.5" y="30">GUI\fillRowCSV</text></g>
<g id="c6aa" class="n" transform="translate(1571,2783)"><rect width="185" height="41"/><text x="11" y="15">ilBookingReservationsTable</text><text class="c" x="92.5" y="30">GUI\fillRowExcel</text></g>
<g id="c6ab" class="n" transform="translate(1574,2849)"><rect width="179" height="39"/><text x="11" y="15">ilSoapObjectAdministration</text><text class="c" x="89.5" y="30">\addReferences</text></g>
<g id="c6ac" class="n" transform="translate(1590,2914)"><rect width="147" height="39"/><text x="11" y="15">ilWebDAVObjFactory</text><text class="c" x="73.5" y="30">\createDAVObject</text></g>
<g id="c6ad" class="n" transform="translate(1577,2979)"><rect width="174" height="40"/><text x="11" y="15">ilRemoteObjectBase</text><text class="c" x="87" y="30">\createFromECSEContent</text></g>
<g id="c6ae" class="n" transform="translate(1569,3044)"><rect width="190" height="26"/><text class="c" x="95" y="17">ilOerHarvester\harvestObject</text></g>
<g id="c6af" class="n" transform="translate(1567,3224)"><rect width="194" height="25"/><text class="c" x="97" y="17">ilObject2GUI\putObjectInTree</text></g>
<g id="c6ag" class="n" transform="translate(1571,3640)"><rect width="186" height="25"/><text class="c" x="93" y="17">ilObjectGUI\putObjectInTree</text></g>
<g id="c7a" class="n" transform="translate(1849,466)"><rect width="179" height="40"/><text x="11" y="15">ilNewsTimelineGUI\update</text><text class="c" x="89.5" y="30">NewsItem</text></g>
<g id="c7b" class="n" transform="translate(1842,1689)"><rect width="194" height="55"/><text x="11" y="15">ilCourseMembershipGUI</text><text x="11" y="30">\deleteParticipantsWithLinked</text><text class="c" x="97" y="45">Courses</text></g>
<g id="c7c" class="n" transform="translate(1842,1788)"><rect width="194" height="26"/><text class="c" x="97" y="17">ilMembershipGUI\editMember</text></g>
<g id="c7d" class="n" transform="translate(1853,1970)"><rect width="171" height="40"/><text x="11" y="15">ilMembershipGUI\printFor</text><text class="c" x="85.5" y="30">MembersOutput</text></g>
<g id="c7e" class="n" transform="translate(1835,2035)"><rect width="207" height="40"/><text x="11" y="15">ilLearningSequenceMembership</text><text class="c" x="103.5" y="30">GUI\printMembers</text></g>
<g id="c7f" class="n" transform="translate(1835,2100)"><rect width="207" height="26"/><text class="c" x="103.5" y="17">ilMembershipGUI\printMembers</text></g>
<g id="c7g" class="n" transform="translate(1835,2153)"><rect width="207" height="40"/><text x="11" y="15">ilMembershipGUI\printMembers</text><text class="c" x="103.5" y="30">Output</text></g>
<g id="c7h" class="n" transform="translate(1850,2849)"><rect width="178" height="39"/><text x="11" y="15">ilSoapObjectAdministration</text><text class="c" x="89" y="30">\getXMLTree</text></g>
<g id="c7i" class="n" transform="translate(1867,2946)"><rect width="143" height="40"/><text x="11" y="15">ilRemoteObjectBase</text><text class="c" x="71.5" y="30">\handleUpdate</text></g>
<g id="c7j" class="n" transform="translate(1862,3011)"><rect width="153" height="26"/><text class="c" x="76.5" y="17">ilOerHarvester\harvest</text></g>
<g id="c7k" class="n" transform="translate(1863,3063)"><rect width="151" height="40"/><text x="11" y="15">ilObjLTIConsumerGUI</text><text class="c" x="75.5" y="30">\createNewObject</text></g>
<g id="c7l" class="n" transform="translate(1856,3129)"><rect width="165" height="41"/><text x="11" y="15">ilObjExerciseVerification</text><text class="c" x="82.5" y="30">GUI\save</text></g>
<g id="c7m" class="n" transform="translate(1829,3194)"><rect width="219" height="26"/><text class="c" x="109.5" y="17">ilObjSCORMVerificationGUI\save</text></g>
<g id="c7n" class="n" transform="translate(1843,3246)"><rect width="191" height="39"/><text x="11" y="15">ilObjLTIConsumerVerification</text><text class="c" x="95.5" y="30">GUI\save</text></g>
<g id="c7o" class="n" transform="translate(1858,3311)"><rect width="162" height="40"/><text x="11" y="15">ilObjCmiXapiVerification</text><text class="c" x="81" y="30">GUI\save</text></g>
<g id="c7p" class="n" transform="translate(1833,3376)"><rect width="211" height="26"/><text class="c" x="105.5" y="17">ilObjCourseVerificationGUI\save</text></g>
<g id="c7q" class="n" transform="translate(1842,3427)"><rect width="193" height="26"/><text class="c" x="96.5" y="17">ilObjTestVerificationGUI\save</text></g>
<g id="c7r" class="n" transform="translate(1864,3479)"><rect width="148" height="40"/><text x="11" y="15">ilObjFileBasedLMGUI</text><text class="c" x="74" y="30">\createFromDirectory</text></g>
<g id="c7s" class="n" transform="translate(1843,3544)"><rect width="191" height="40"/><text x="11" y="15">ilObjSurveyQuestionPoolGUI</text><text class="c" x="95.5" y="30">\importFileObject</text></g>
<g id="c7t" class="n" transform="translate(1844,3610)"><rect width="189" height="26"/><text class="c" x="94.5" y="17">ilObjectGUI\importFileObject</text></g>
<g id="c7u" class="n" transform="translate(1843,3662)"><rect width="193" height="40"/><text x="11" y="15">ilObjSurveyGUI\importSurvey</text><text class="c" x="96.5" y="30">Object</text></g>
<g id="c7v" class="n" transform="translate(1843,3726)"><rect width="192" height="40"/><text x="11" y="15">ilObjEmployeeTalkSeriesGUI</text><text class="c" x="96" y="30">\saveObject</text></g>
<g id="c7w" class="n" transform="translate(1842,3792)"><rect width="194" height="26"/><text class="c" x="97" y="17">ilObjGlossaryGUI\saveObject</text></g>
<g id="c7x" class="n" transform="translate(1859,3843)"><rect width="160" height="26"/><text class="c" x="80" y="17">ilObjectGUI\saveObject</text></g>
<g id="c8a" class="n" transform="translate(2137,2946)"><rect width="144" height="40"/><text x="11" y="15">ilRemoteObjectBase</text><text class="c" x="72" y="30">\handleCreate</text></g>
<g id="c8b" class="n" transform="translate(2145,3011)"><rect width="129" height="26"/><text class="c" x="64.5" y="17">ilOerHarvester\run</text></g>
<g id="c8c" class="n" transform="translate(2134,3063)"><rect width="151" height="40"/><text x="11" y="15">ilObjLTIConsumerGUI</text><text class="c" x="75.5" y="30">\saveCustom</text></g>
<g id="c8d" class="n" transform="translate(2135,3479)"><rect width="148" height="40"/><text x="11" y="15">ilObjFileBasedLMGUI</text><text class="c" x="74" y="30">\importFileObject</text></g>
<g id="c8e" class="n" transform="translate(2096,3580)"><rect width="227" height="26"/><text class="c" x="113.5" y="17">ilObjOrgUnitGUI\executeCommand</text></g>
<g id="c8f" class="n" transform="translate(2120,3633)"><rect width="178" height="40"/><text x="11" y="15">ilObjLearningSequenceGUI</text><text class="c" x="89" y="30">\executeCommand</text></g>
<g id="c8g" class="n" transform="translate(2102,3836)"><rect width="215" height="40"/><text x="11" y="15">ilObjSessionGUI\saveAndAssign</text><text class="c" x="107.5" y="30">MaterialsObject</text></g>
</svg>
